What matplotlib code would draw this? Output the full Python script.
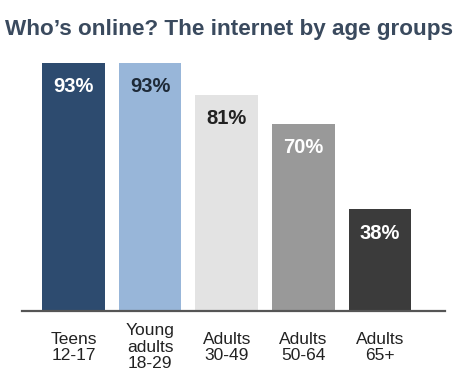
import matplotlib.pyplot as plt

plt.rcParams['font.family'] = ['Liberation Sans', 'DejaVu Sans']

groups = ["Teens\n12-17", "Young\nadults\n18-29", "Adults\n30-49", "Adults\n50-64", "Adults\n65+"]
share = [93, 93, 81, 70, 38]
bar_colors = ["#2d4b6f", "#98b6d9", "#e3e3e3", "#999999", "#3b3b3b"]
text_colors = ["white", "#1e2a38", "#222222", "white", "white"]

fig = plt.figure(figsize=(4.57, 3.72), dpi=100)
ax = fig.add_axes([0.048, 0.164, 0.926, 0.718])

x = range(len(groups))
ax.bar(x, share, width=0.82, color=bar_colors)

for i, v in enumerate(share):
    ax.annotate(f"{v}%", (i, v), xytext=(0, -17), textcoords="offset points",
                ha="center", va="center", fontsize=14.5, fontweight="bold",
                color=text_colors[i])

ax.set_xlim(-0.672, 4.85)
ax.set_ylim(0, 100)
ax.set_xticks(list(x))
ax.set_xticklabels(groups, fontsize=12.5, color="#222222", linespacing=1.1,
                   va="center")
ax.tick_params(axis="x", length=0, pad=26)
ax.set_yticks([])
for s in ["top", "left", "right"]:
    ax.spines[s].set_visible(False)
ax.spines["bottom"].set_color("#555555")
ax.spines["bottom"].set_linewidth(1.6)

fig.text(0.012, 1 - 30 / 372, "Who\u2019s online? The internet by age groups",
         fontsize=16.2, fontweight="bold", color="#3a4a5e", va="center", ha="left")

fig.savefig("out.png", dpi=100)
